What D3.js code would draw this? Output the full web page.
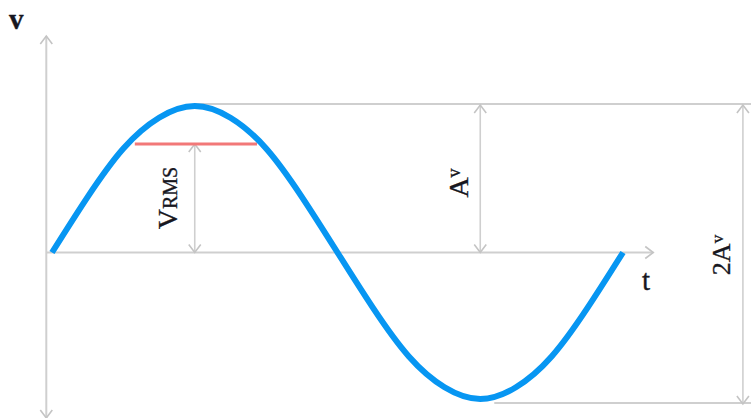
<!DOCTYPE html>
<html>
<head>
<meta charset="utf-8">
<script src="https://cdn.jsdelivr.net/npm/d3@7"></script>
<style>
  body { margin: 0; background: #fff; }
  text { font-family: "Liberation Serif", "DejaVu Serif", serif; fill: #17171f; stroke: #17171f; stroke-width: 0.35; }
</style>
</head>
<body>
<script>
const width = 751;
const height = 418;

// one period of the wave, t as a fraction of the period, v relative to the peak
const phase = [0, 0.0625, 0.125, 0.1875, 0.25, 0.3125, 0.375, 0.4375, 0.5,
               0.5625, 0.625, 0.6875, 0.75, 0.8125, 0.875, 0.9375, 1];
const volts = [0, 0.38, 0.71, 0.92, 1, 0.92, 0.71, 0.38, 0,
               -0.38, -0.71, -0.92, -1, -0.92, -0.71, -0.38, 0];

// rms level and where the red line meets the wave
const rmsLevel = 0.74;
const rmsSpan = [0.145, 0.359];

// where the markers sit, same units as the phase
const peakT = 0.25;
const troughT = 0.75;
const axisStartT = -0.01;
const axisEndT = 1.053;
const ppT = 1.21;

const x = d3.scaleLinear().domain([0, 1]).range([52, 623]);
const y = d3.scaleLinear().domain([-1, 1]).range([399, 106]);

const svg = d3.select("body").append("svg")
    .attr("width", width)
    .attr("height", height);

const defs = svg.append("defs");
defs.append("marker")
    .attr("id", "head")
    .attr("viewBox", "-10 -8 12 16")
    .attr("refX", 0)
    .attr("refY", 0)
    .attr("markerWidth", 12)
    .attr("markerHeight", 16)
    .attr("markerUnits", "userSpaceOnUse")
    .attr("orient", "auto-start-reverse")
  .append("path")
    .attr("d", "M-8,-6 L0,0 L-8,6")
    .attr("fill", "none")
    .attr("stroke", "#c4c4c4")
    .attr("stroke-width", 1.6);

const grey = "#cfcfcf";

// axes
svg.append("line")
    .attr("x1", x(axisStartT)).attr("y1", 418)
    .attr("x2", x(axisStartT)).attr("y2", 36)
    .attr("stroke", grey).attr("stroke-width", 2)
    .attr("marker-start", "url(#head)")
    .attr("marker-end", "url(#head)");

svg.append("line")
    .attr("x1", x(axisStartT)).attr("y1", y(0))
    .attr("x2", x(axisEndT)).attr("y2", y(0))
    .attr("stroke", grey).attr("stroke-width", 2)
    .attr("marker-end", "url(#head)");

// guide lines at the peak and the trough
svg.append("line")
    .attr("x1", x(peakT)).attr("y1", y(1) - 2)
    .attr("x2", width).attr("y2", y(1) - 2)
    .attr("stroke", grey).attr("stroke-width", 2);

svg.append("line")
    .attr("x1", x(troughT) + 14).attr("y1", y(-1) + 4)
    .attr("x2", width).attr("y2", y(-1) + 4)
    .attr("stroke", grey).attr("stroke-width", 2);

// double arrows
const arrows = [
  { t: peakT, from: rmsLevel, to: 0 },
  { t: troughT, from: 1, to: 0 },
  { t: ppT, from: 1, to: -1 }
];
svg.selectAll(".dim").data(arrows).join("line")
    .attr("class", "dim")
    .attr("x1", d => x(d.t)).attr("y1", d => y(d.from) + (d.from === 1 ? -1 : 0))
    .attr("x2", d => x(d.t)).attr("y2", d => y(d.to) + (d.to === -1 ? 5 : 0))
    .attr("stroke", grey).attr("stroke-width", 1.6)
    .attr("marker-start", "url(#head)")
    .attr("marker-end", "url(#head)");

// rms line
svg.append("line")
    .attr("x1", x(rmsSpan[0])).attr("y1", y(rmsLevel))
    .attr("x2", x(rmsSpan[1])).attr("y2", y(rmsLevel))
    .attr("stroke", "#f27878").attr("stroke-width", 3);

// the wave
const line = d3.line()
    .x((d, i) => x(phase[i]))
    .y(d => y(d))
    .curve(d3.curveNatural);

svg.append("path")
    .datum(volts)
    .attr("d", line)
    .attr("fill", "none")
    .attr("stroke", "#0796f2")
    .attr("stroke-width", 6);

// labels
svg.append("text")
    .attr("x", 9).attr("y", 29)
    .attr("font-size", 29).attr("font-weight", "bold")
    .text("v");

svg.append("text")
    .attr("x", 642).attr("y", 290)
    .attr("font-size", 29)
    .text("t");

function vertLabel(cx, cy, main, sub, size, subSize, raise) {
  const t = svg.append("text")
      .attr("transform", `translate(${cx},${cy}) rotate(-90)`)
      .attr("text-anchor", "middle")
      .attr("font-size", size);
  t.append("tspan").text(main);
  t.append("tspan").attr("font-size", subSize).attr("dy", -raise).text(sub);
}

vertLabel(177, 198, "V", "RMS", 28, 20, 0);
vertLabel(468, 183, "A", "v", 28, 18, 8);
vertLabel(730, 255, "2A", "v", 26, 17, 7);
</script>
</body>
</html>
